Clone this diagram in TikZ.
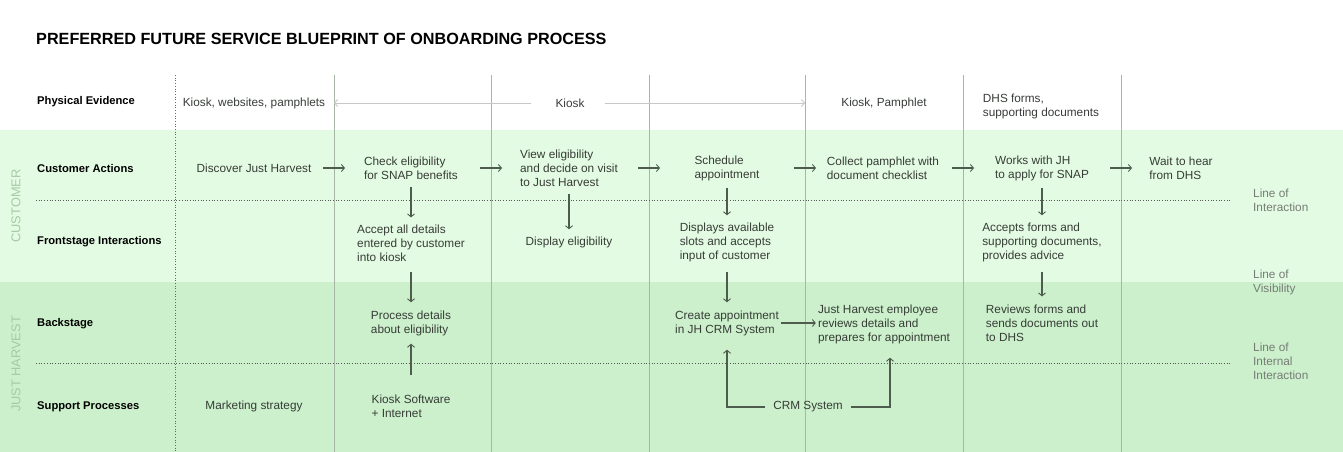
\documentclass[tikz,border=0pt]{standalone}
\usepackage{fontspec}
\setmainfont{Liberation Sans}
\definecolor{custgreen}{RGB}{227,251,227}
\definecolor{jhgreen}{RGB}{203,240,203}
\definecolor{sidegreen}{RGB}{166,202,166}
\definecolor{linegrey}{RGB}{168,182,168}
\definecolor{textgrey}{RGB}{55,60,55}
\definecolor{arrowgrey}{RGB}{78,92,78}
\definecolor{notegrey}{RGB}{118,124,118}
\usetikzlibrary{calc,arrows.meta}

\begin{document}
\begin{tikzpicture}[x=1pt,y=-1pt,
  every node/.style={font=\fontsize{11.8}{14}\selectfont, text=textgrey, inner sep=2pt},
  rowlabel/.style={anchor=west, text=black, font=\fontsize{11.2}{14}\selectfont\bfseries},
  stepbox/.style={align=left},
  flow/.style={-{Straight Barb[length=3pt,width=7pt,line width=0.9pt]}, draw=arrowgrey, line width=1.1pt},
  evid/.style={-{Straight Barb[length=3pt,width=7pt]}, draw=black!22, line width=0.9pt},
  sep/.style={draw=linegrey, line width=0.6pt},
  sidenote/.style={anchor=west, align=left, text=notegrey, font=\fontsize{11.8}{14}\selectfont}]

  \useasboundingbox (0,0) rectangle (1343,452);
  % bands
  \fill[custgreen] (0,130) rectangle (1343,282);
  \fill[jhgreen] (0,282) rectangle (1343,452);

  % columns
  \coordinate (v0) at (175,75);
  \coordinate (v1) at (334,75);
  \coordinate (v2) at (491,75);
  \coordinate (v3) at (649,75);
  \coordinate (v4) at (805,75);
  \coordinate (v5) at (963,75);
  \coordinate (v6) at (1121,75);
  \draw[draw=black!60, dotted, line width=0.7pt] (v0) -- ++(0,377);
  \draw[sep] (v1) -- ++(0,377);
  \draw[sep] (v2) -- ++(0,377);
  \draw[sep] (v3) -- ++(0,377);
  \draw[sep] (v4) -- ++(0,377);
  \draw[sep] (v5) -- ++(0,377);
  \draw[sep] (v6) -- ++(0,377);

  % lines
  \coordinate (loi) at (36,200);
  \coordinate (lii) at (36,363);
  \draw[draw=black!65, dotted, line width=0.7pt] (loi) -- ++(1194,0);
  \draw[draw=black!65, dotted, line width=0.7pt] (lii) -- ++(1194,0);

  \node[anchor=west, text=black, font=\fontsize{16.2}{20}\selectfont\bfseries] (title) at (34,39) {PREFERRED FUTURE SERVICE BLUEPRINT OF ONBOARDING PROCESS};

  \node[rotate=90, text=sidegreen, font=\fontsize{12.8}{15}\selectfont] (cust) at (16,206) {CUSTOMER};
  \node[rotate=90, text=sidegreen, font=\fontsize{12.8}{15}\selectfont] (jh) at (16,364) {JUST HARVEST};

  \node[rowlabel] (pe) at (35,102) {Physical Evidence};
  \node[rowlabel] (ca) at (35,168) {Customer Actions};
  \node[rowlabel] (fi) at (35,242) {Frontstage Interactions};
  \node[rowlabel] (bs) at (35,324) {Backstage};
  \node[rowlabel] (sp) at (35,407) {Support Processes};

  \node[sidenote] (noteloi) at (1251,200) {Line of\\Interaction};
  \node[sidenote] (notelov) at (1251,282) {Line of\\Visibility};
  \node[sidenote] (notelii) at (1251,361) {Line of\\Internal\\Interaction};

  % physical evidence
  \node (pe1) at (254,103) {Kiosk, websites, pamphlets};
  \node (pe2) at (570,103) {Kiosk};
  \node (pe3) at (884,103) {Kiosk, Pamphlet};
  \node[stepbox] (pe4) at (1041,106) {DHS forms,\\supporting documents};
  \draw[evid] ([xshift=-22pt]pe2.west) -- (pe2 -| v1);
  \draw[evid] ([xshift=18pt]pe2.east) -- (pe2 -| v4);

  % customer actions
  \node (ca1) at (254,168) {Discover Just Harvest};
  \node[stepbox] (ca2) at (411,168) {Check eligibility\\for SNAP benefits};
  \node[stepbox] (ca3) at (569,168) {View eligibility\\and decide on visit\\to Just Harvest};
  \node[stepbox] (ca4) at (727,168) {Schedule\\appointment};
  \node[stepbox] (ca5) at (883,168) {Collect pamphlet with\\document checklist};
  \node[stepbox] (ca6) at (1042,168) {Works with JH\\to apply for SNAP};
  \node[stepbox] (ca7) at (1181,168) {Wait to hear\\from DHS};
  \draw[flow] ($(ca1 -| v1)+(-11,0)$) -- ($(ca2 -| v1)+(11,0)$);
  \draw[flow] ($(ca2 -| v2)+(-11,0)$) -- ($(ca3 -| v2)+(11,0)$);
  \draw[flow] ($(ca3 -| v3)+(-11,0)$) -- ($(ca4 -| v3)+(11,0)$);
  \draw[flow] ($(ca4 -| v4)+(-11,0)$) -- ($(ca5 -| v4)+(11,0)$);
  \draw[flow] ($(ca5 -| v5)+(-11,0)$) -- ($(ca6 -| v5)+(11,0)$);
  \draw[flow] ($(ca6 -| v6)+(-11,0)$) -- ($(ca7 -| v6)+(11,0)$);

  % frontstage
  \node[stepbox] (fi1) at (411,243) {Accept all details\\entered by customer\\into kiosk};
  \node (fi2) at (569,242) {Display eligibility};
  \node[stepbox] (fi3) at (727,242) {Displays available\\slots and accepts\\input of customer};
  \node[stepbox] (fi4) at (1042,242) {Accepts forms and\\supporting documents,\\provides advice};
  \draw[flow, shorten <=5pt, shorten >=5pt] (ca2) -- (fi1);
  \draw[flow, shorten <=5pt, shorten >=5pt] (ca3) -- (fi2);
  \draw[flow, shorten <=5pt, shorten >=5pt] (ca4) -- (fi3);
  \draw[flow, shorten <=5pt, shorten >=5pt] (ca6) -- (fi4);

  % backstage
  \node[stepbox] (bs1) at (411,323) {Process details\\about eligibility};
  \node[stepbox] (bs2) at (727,323) {Create appointment\\in JH CRM System};
  \node[stepbox] (bs3) at (884,324) {Just Harvest employee\\reviews details and\\prepares for appointment};
  \node[stepbox] (bs4) at (1042,323) {Reviews forms and\\sends documents out\\to DHS};
  \draw[flow, shorten <=8pt, shorten >=6pt] (fi1) -- (bs1);
  \draw[flow, shorten <=8pt, shorten >=6pt] (fi3) -- (bs2);
  \draw[flow, shorten <=8pt, shorten >=6pt] (fi4) -- (bs4);
  \draw[flow] (bs2.east) -- (bs2.east -| bs3.west);

  % support
  \node (sp1) at (254,406) {Marketing strategy};
  \node[stepbox] (sp2) at (411,406) {Kiosk Software\\+ Internet};
  \node (sp3) at (808,407) {CRM System};
  \draw[flow, shorten <=17pt, shorten >=6pt] (sp2) -- (bs1);
  \draw[flow, shorten <=6pt, shorten >=12pt] (sp3.west) -| (bs2.south);
  \draw[flow, shorten <=6pt, shorten >=12pt] (sp3.east) -| ([xshift=6pt]bs3.south);
\end{tikzpicture}
\end{document}
